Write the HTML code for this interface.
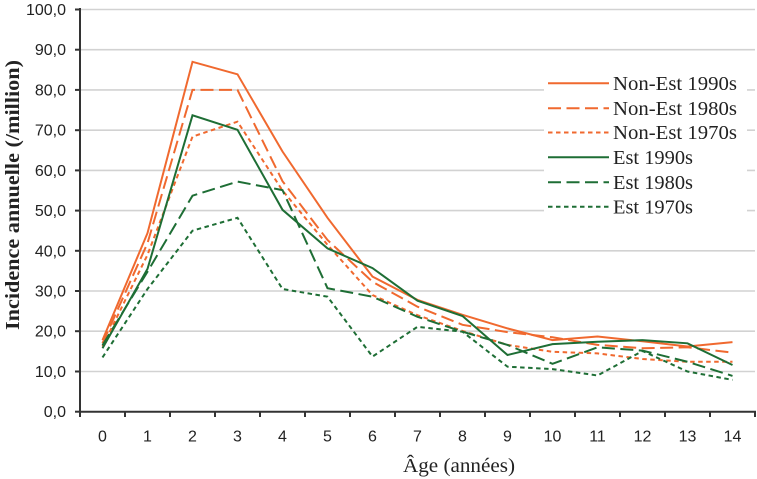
<!DOCTYPE html>
<html><head><meta charset="utf-8"><style>
html,body{margin:0;padding:0;background:#fff;}
svg{display:block;}
</style></head><body>
<svg width="757" height="479" viewBox="0 0 757 479" xmlns="http://www.w3.org/2000/svg">
<rect width="757" height="479" fill="#fff"/>
<g stroke="#d2d2d2" stroke-width="1.6">
<line x1="80" y1="9.5" x2="755" y2="9.5"/>
<line x1="80" y1="49.7" x2="755" y2="49.7"/>
<line x1="80" y1="89.9" x2="755" y2="89.9"/>
<line x1="80" y1="130.2" x2="755" y2="130.2"/>
<line x1="80" y1="170.4" x2="755" y2="170.4"/>
<line x1="80" y1="210.6" x2="755" y2="210.6"/>
<line x1="80" y1="250.8" x2="755" y2="250.8"/>
<line x1="80" y1="291" x2="755" y2="291"/>
<line x1="80" y1="331.2" x2="755" y2="331.2"/>
<line x1="80" y1="371.5" x2="755" y2="371.5"/>
</g>
<rect x="544" y="62" width="203" height="160" fill="#fff"/>
<g font-family="Liberation Sans, Arial, sans-serif" font-size="16" fill="#222" text-anchor="end">
<text x="66" y="15">100,0</text>
<text x="66" y="55.2">90,0</text>
<text x="66" y="95.4">80,0</text>
<text x="66" y="135.7">70,0</text>
<text x="66" y="175.9">60,0</text>
<text x="66" y="216.1">50,0</text>
<text x="66" y="256.3">40,0</text>
<text x="66" y="296.5">30,0</text>
<text x="66" y="336.7">20,0</text>
<text x="66" y="377">10,0</text>
<text x="66" y="417.2">0,0</text>
</g>
<g font-family="Liberation Sans, Arial, sans-serif" font-size="16" fill="#222" text-anchor="middle">
<text x="102.5" y="441.5">0</text>
<text x="147.5" y="441.5">1</text>
<text x="192.5" y="441.5">2</text>
<text x="237.5" y="441.5">3</text>
<text x="282.5" y="441.5">4</text>
<text x="327.5" y="441.5">5</text>
<text x="372.5" y="441.5">6</text>
<text x="417.5" y="441.5">7</text>
<text x="462.5" y="441.5">8</text>
<text x="507.5" y="441.5">9</text>
<text x="552.5" y="441.5">10</text>
<text x="597.5" y="441.5">11</text>
<text x="642.5" y="441.5">12</text>
<text x="687.5" y="441.5">13</text>
<text x="732.5" y="441.5">14</text>
</g>
<text x="403" y="472" font-family="Liberation Serif, serif" font-size="20" fill="#222" textLength="112" lengthAdjust="spacingAndGlyphs">Âge (années)</text>
<text transform="translate(19,330) rotate(-90)" x="0" y="0" font-family="Liberation Serif, serif" font-weight="bold" font-size="20" fill="#222" textLength="270" lengthAdjust="spacingAndGlyphs">Incidence annuelle (/million)</text>
<g fill="none" stroke-width="2" stroke-linejoin="miter">
<polyline stroke="#f0692f" points="102.5,340.1 147.5,233.1 192.5,61.8 237.5,74.3 282.5,151.5 327.5,217.8 372.5,276.6 417.5,299.9 462.5,314.8 507.5,328.4 552.5,340.1 597.5,336.5 642.5,341.3 687.5,346.5 732.5,342.1"/>
<polyline stroke="#f0692f" stroke-dasharray="13,5.5" points="102.5,343.3 147.5,243.2 192.5,89.9 237.5,89.9 282.5,181.2 327.5,240 372.5,281.8 417.5,306.7 462.5,324.8 507.5,332.1 552.5,337.3 597.5,344.9 642.5,348.2 687.5,347.3 732.5,352.6"/>
<polyline stroke="#f0692f" stroke-dasharray="4.5,3.5" points="102.5,346.5 147.5,254.8 192.5,136.6 237.5,121.7 282.5,190.5 327.5,244.8 372.5,295.1 417.5,315.2 462.5,330.9 507.5,344.9 552.5,351.8 597.5,353.4 642.5,359 687.5,361.8 732.5,361.8"/>
<polyline stroke="#1e6e35" points="102.5,348.2 147.5,268.9 192.5,115.3 237.5,129.8 282.5,209.8 327.5,248.4 372.5,268.1 417.5,300.7 462.5,316 507.5,355 552.5,344.1 597.5,341.7 642.5,340.1 687.5,343.3 732.5,365"/>
<polyline stroke="#1e6e35" stroke-dasharray="13,5.5" points="102.5,345.3 147.5,271.7 192.5,195.7 237.5,181.6 282.5,190.1 327.5,288.2 372.5,296.7 417.5,316.8 462.5,331.7 507.5,344.9 552.5,363.8 597.5,347.3 642.5,350.6 687.5,361.8 732.5,375.9"/>
<polyline stroke="#1e6e35" stroke-dasharray="4.5,3.5" points="102.5,357.4 147.5,289 192.5,230.7 237.5,217.8 282.5,289 327.5,296.7 372.5,356.6 417.5,326.8 462.5,331.7 507.5,366.7 552.5,369.1 597.5,375.5 642.5,351 687.5,371.5 732.5,379.9"/>
</g>
<g stroke="#333" stroke-width="2">
<line x1="80" y1="8" x2="80" y2="413"/>
<line x1="79" y1="411.7" x2="756" y2="411.7"/>
<line x1="75" y1="9.5" x2="80" y2="9.5"/>
<line x1="75" y1="49.7" x2="80" y2="49.7"/>
<line x1="75" y1="89.9" x2="80" y2="89.9"/>
<line x1="75" y1="130.2" x2="80" y2="130.2"/>
<line x1="75" y1="170.4" x2="80" y2="170.4"/>
<line x1="75" y1="210.6" x2="80" y2="210.6"/>
<line x1="75" y1="250.8" x2="80" y2="250.8"/>
<line x1="75" y1="291" x2="80" y2="291"/>
<line x1="75" y1="331.2" x2="80" y2="331.2"/>
<line x1="75" y1="371.5" x2="80" y2="371.5"/>
<line x1="75" y1="411.7" x2="80" y2="411.7"/>
<line x1="80" y1="411.7" x2="80" y2="417"/>
<line x1="125" y1="411.7" x2="125" y2="417"/>
<line x1="170" y1="411.7" x2="170" y2="417"/>
<line x1="215" y1="411.7" x2="215" y2="417"/>
<line x1="260" y1="411.7" x2="260" y2="417"/>
<line x1="305" y1="411.7" x2="305" y2="417"/>
<line x1="350" y1="411.7" x2="350" y2="417"/>
<line x1="395" y1="411.7" x2="395" y2="417"/>
<line x1="440" y1="411.7" x2="440" y2="417"/>
<line x1="485" y1="411.7" x2="485" y2="417"/>
<line x1="530" y1="411.7" x2="530" y2="417"/>
<line x1="575" y1="411.7" x2="575" y2="417"/>
<line x1="620" y1="411.7" x2="620" y2="417"/>
<line x1="665" y1="411.7" x2="665" y2="417"/>
<line x1="710" y1="411.7" x2="710" y2="417"/>
<line x1="755" y1="411.7" x2="755" y2="417"/>
</g>
<g stroke-width="2">
<line x1="548" y1="83.3" x2="609" y2="83.3" stroke="#f0692f"/>
<line x1="548" y1="108.3" x2="609" y2="108.3" stroke="#f0692f" stroke-dasharray="13,5.5"/>
<line x1="548" y1="132.5" x2="609" y2="132.5" stroke="#f0692f" stroke-dasharray="4.5,3.5"/>
<line x1="548" y1="157.3" x2="609" y2="157.3" stroke="#1e6e35"/>
<line x1="548" y1="182.3" x2="609" y2="182.3" stroke="#1e6e35" stroke-dasharray="13,5.5"/>
<line x1="548" y1="206.7" x2="609" y2="206.7" stroke="#1e6e35" stroke-dasharray="4.5,3.5"/>
</g>
<g font-family="Liberation Serif, serif" font-size="20.5" fill="#222">
<text x="613" y="90" textLength="124" lengthAdjust="spacingAndGlyphs">Non-Est 1990s</text>
<text x="613" y="115" textLength="124" lengthAdjust="spacingAndGlyphs">Non-Est 1980s</text>
<text x="613" y="139.2" textLength="124" lengthAdjust="spacingAndGlyphs">Non-Est 1970s</text>
<text x="613" y="164" textLength="80" lengthAdjust="spacingAndGlyphs">Est 1990s</text>
<text x="613" y="189" textLength="80" lengthAdjust="spacingAndGlyphs">Est 1980s</text>
<text x="613" y="213.4" textLength="80" lengthAdjust="spacingAndGlyphs">Est 1970s</text>
</g>
</svg>
</body></html>
